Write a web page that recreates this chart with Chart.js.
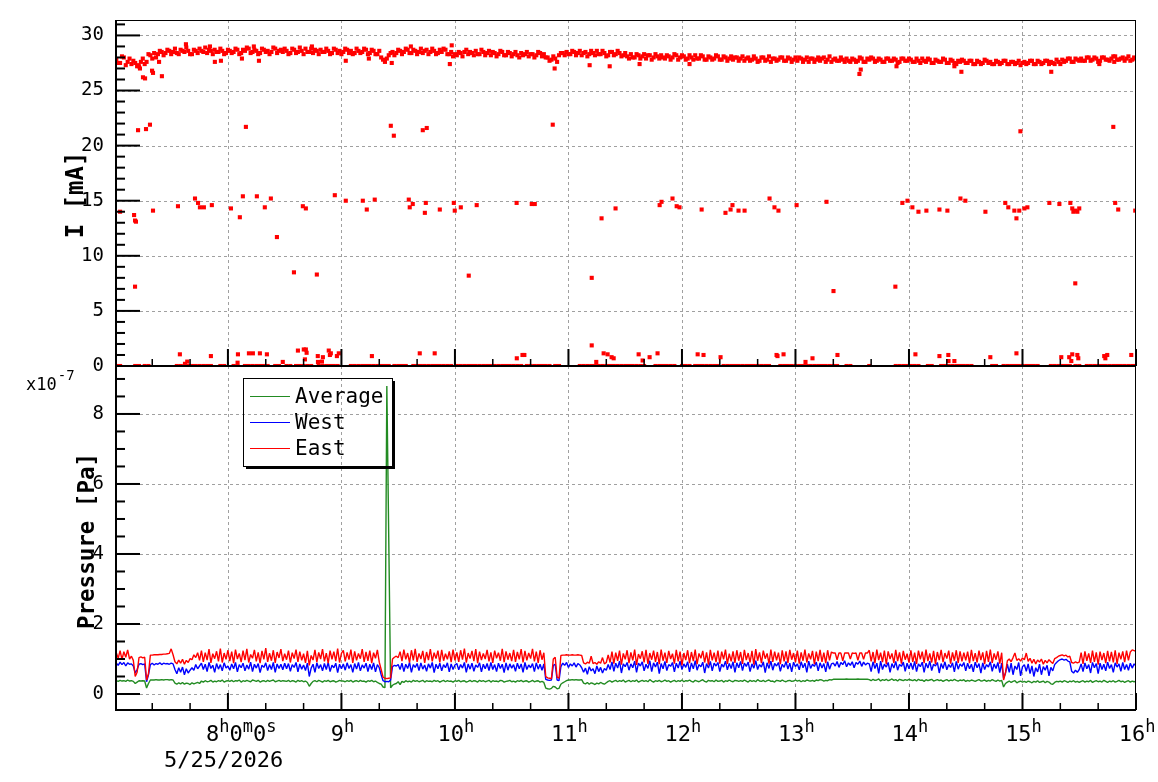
<!DOCTYPE html>
<html>
<head>
<meta charset="utf-8">
<title>Beam current and pressure</title>
<script src="https://cdn.jsdelivr.net/npm/chart.js@4.4.1/dist/chart.umd.min.js"></script>
<style>
  html, body { margin: 0; background: #fff; }
  #page { position: relative; width: 1158px; height: 782px; overflow: hidden; }
  #page canvas { position: absolute; left: 0; }
</style>
</head>
<body>
<div id="page">
  <canvas id="current" width="1158" height="386" style="top:0;width:1158px;height:386px"></canvas>
  <canvas id="pressure" width="1158" height="442" style="top:340px;width:1158px;height:442px"></canvas>
</div>
<script>
// time axis in minutes after 7:00 (5/25/2026)
const X_MIN = 0.84, X_MAX = 540;
const hourTicks = [60, 120, 180, 240, 300, 360, 420, 480, 540];
const hourLabels = ['8^h0^m0^s', '9^h', '10^h', '11^h', '12^h', '13^h', '14^h', '15^h', '16^h'];
const dateLabel = '5/25/2026';

// beam current [mA], main band: odd minutes and even minutes
const bandOdd = [
  27.8,27.5,28.0,27.6,27.4,27.5,27.2,27.9,27.6,28.2,28.4,28.3,28.5,28.4,28.6,
  28.5,28.4,28.7,28.5,28.6,28.3,28.6,28.8,28.5,28.4,28.6,28.7,28.5,28.6,28.4,
  28.6,28.5,28.7,28.4,28.6,28.8,28.5,28.6,28.4,28.7,28.6,28.5,28.8,28.6,28.5,
  28.6,28.4,28.7,28.5,28.6,28.8,28.5,28.4,28.6,28.7,28.5,28.6,28.4,28.7,28.6,
  28.5,28.7,28.6,28.4,28.6,28.5,28.7,28.4,28.6,28.3,28.0,27.6,28.2,28.5,28.4,
  28.6,28.5,28.7,28.4,28.6,28.5,28.4,28.7,28.5,28.6,28.4,28.5,28.7,28.3,28.1,
  28.2,28.4,28.5,28.3,28.4,28.6,28.3,28.5,28.4,28.2,28.4,28.3,28.5,28.2,28.4,
  28.3,28.2,28.4,28.3,28.1,28.3,28.2,28.4,28.3,28.0,27.8,27.9,28.2,28.4,28.5,
  28.3,28.5,28.4,28.2,28.5,28.3,28.4,28.6,28.3,28.4,28.2,28.5,28.3,28.4,28.2,
  28.1,28.3,28.0,28.2,28.1,27.9,28.2,28.0,28.1,28.2,27.9,28.1,28.0,28.2,28.0,
  28.1,27.9,28.0,28.2,27.9,28.1,27.8,28.0,27.9,28.1,27.8,28.0,27.9,27.8,28.0,
  27.9,27.7,28.0,27.8,27.9,27.7,28.0,27.8,27.6,27.9,27.8,28.0,27.7,27.9,27.8,
  27.7,27.9,27.8,27.6,27.9,27.8,27.7,28.0,27.8,27.6,27.9,27.7,27.8,27.9,27.6,
  27.8,27.7,27.9,27.6,27.8,27.9,27.7,27.8,27.6,27.9,27.7,27.8,27.6,27.9,27.7,
  27.8,27.6,27.7,27.9,27.6,27.8,27.5,27.7,27.6,27.8,27.5,27.7,27.4,27.6,27.7,
  27.5,27.7,27.4,27.6,27.5,27.7,27.6,27.4,27.6,27.5,27.7,27.4,27.6,27.5,27.3,
  27.6,27.5,27.7,27.4,27.6,27.5,27.7,27.6,27.4,27.6,27.8,27.7,27.9,27.6,27.8,
  27.9,27.7,28.0,27.8,27.9,27.7,28.0,27.8,27.9,28.1,27.8,28.0,27.9,27.7,28.0
];
const bandEven = [
  27.5,28.1,27.3,27.9,27.7,27.2,27.6,27.4,28.3,27.9,28.0,28.6,28.2,28.7,28.3,
  28.8,28.3,28.6,28.9,28.3,28.7,28.4,28.6,28.9,28.7,28.3,28.5,28.8,28.3,28.7,
  28.4,28.8,28.3,28.7,28.9,28.4,28.7,28.3,28.8,28.5,28.3,28.9,28.4,28.7,28.8,
  28.3,28.8,28.4,28.9,28.3,28.5,28.8,28.7,28.3,28.5,28.8,28.3,28.8,28.4,28.3,
  28.8,28.4,28.3,28.8,28.4,28.8,28.3,28.7,28.3,28.6,27.8,27.9,28.4,28.2,28.7,
  28.3,28.8,28.4,28.7,28.3,28.8,28.6,28.3,28.8,28.3,28.7,28.8,28.3,28.5,28.3,
  28.5,28.1,28.7,28.5,28.2,28.3,28.7,28.2,28.6,28.5,28.1,28.6,28.2,28.5,28.1,
  28.5,28.0,28.2,28.5,28.3,28.0,28.5,28.1,28.0,27.7,28.1,27.6,28.4,28.2,28.3,
  28.6,28.2,28.6,28.4,28.1,28.6,28.2,28.3,28.6,28.1,28.5,28.2,28.6,28.1,28.4,
  27.9,28.0,28.3,27.9,28.3,28.2,27.8,28.3,27.9,28.0,28.2,27.8,28.3,27.8,28.2,
  27.8,28.2,27.8,27.9,28.2,27.8,28.1,27.8,28.2,27.8,28.1,27.7,28.1,28.0,27.7,
  28.1,27.9,27.7,28.1,27.6,28.0,27.7,28.1,27.9,27.7,28.0,27.7,28.0,27.6,28.0,
  28.0,27.6,28.0,27.9,27.6,28.0,27.9,27.6,28.1,27.8,27.7,28.0,27.6,27.7,27.9,
  27.6,28.0,27.6,27.9,28.0,27.6,27.9,27.6,27.9,27.7,27.9,27.5,27.9,27.7,27.9,
  27.6,27.9,27.5,27.7,27.9,27.5,27.8,27.6,27.9,27.5,27.8,27.5,27.7,27.8,27.5,
  27.7,27.4,27.7,27.4,27.8,27.5,27.4,27.7,27.4,27.7,27.4,27.6,27.4,27.7,27.5,
  27.4,27.7,27.4,27.7,27.4,27.7,27.4,27.5,27.8,27.4,27.6,27.9,27.6,27.9,27.7,
  27.7,28.0,27.7,28.0,27.6,28.0,27.8,27.7,28.1,27.8,27.9,27.7,28.1,27.8,27.9
];
// minutes with a 0 mA reading
const zeroMinutes = [
  1,3,11,13,16,18,33,35,37,39,41,43,45,47,49,51,56,58,63,65,69,71,73,75,77,79,81,85,87,91,93,
  96,98,100,102,104,108,110,112,114,116,118,125,127,129,131,133,135,137,139,141,143,145,
  148,150,152,154,158,160,162,164,166,168,170,172,174,176,178,181,183,185,187,189,191,193,
  195,197,199,201,203,205,207,209,211,213,215,218,220,222,224,226,228,230,233,235,
  246,248,250,252,254,256,258,260,262,264,266,268,270,272,274,276,278,280,286,288,290,292,
  294,296,300,302,304,307,309,311,313,315,317,319,322,324,326,328,330,332,334,336,338,340,
  342,344,346,352,354,356,358,360,362,364,366,368,370,372,374,376,378,380,382,387,389,399,
  413,415,417,419,421,423,425,430,432,437,439,441,443,445,447,449,451,453,464,466,470,472,
  474,476,478,480,482,484,486,488,495,497,499,501,503,505,508,510,514,516,518,520,522,524,
  526,528,530,532,534,536,538,540
];
// isolated readings [minute, mA]
const nearBand = [
  [12.5,27.3],[13.5,27.0],[15.1,26.2],[16.2,26.1],[19.9,26.8],[20.4,26.6],[23.6,27.6],[25.1,26.3],
  [37.8,29.2],[50.5,29.0],[53.1,27.6],[56.3,27.7],[67.4,27.9],[73.7,29.0],[76.4,27.7],[104.4,29.0],
  [122.3,27.7],[134.5,27.9],[146.6,27.5],[156.7,29.0],[177.3,27.4],[178.3,29.1],[232.7,27.0],
  [251.2,27.3],[261.8,27.2],[277.6,27.4],[304,27.4],[393.8,26.5],[394.5,26.9],[413.4,27.2],
  [444,27.2],[447.7,26.7],[495.2,26.7],[520.6,27.4],[528.5,27.6]
];
const midReadings = [
  [3,14.0],[10.4,13.7],[10.9,13.2],[11.4,13.1],[10.9,7.2],[20.4,14.1],[33.6,14.5],[42.6,15.2],
  [44.2,14.8],[45.2,14.4],[47.3,14.4],[51.5,14.6],[61.6,14.3],[66.3,13.5],[67.9,15.4],[75.3,15.4],
  [79.5,14.4],[82.7,15.2],[85.9,11.7],[94.9,8.5],[107,8.3],[99.6,14.5],[101.2,14.3],[116.5,15.5],
  [122.3,15.0],[131.3,15.0],[133.4,14.2],[137.6,15.1],[155.6,15.1],[156.1,14.4],[157.7,14.7],
  [164.1,13.9],[164.6,14.8],[172,14.2],[179.4,14.8],[179.9,14.1],[183.1,14.4],[191.5,14.6],
  [187.3,8.2],[212.6,14.8],[220.6,14.7],[222.2,14.7],[252.3,8.0],[257.5,13.4],[264.9,14.3],
  [288.2,14.6],[289.2,14.9],[295,15.2],[297.2,14.5],[298.7,14.4],[310.4,14.2],[323,13.9],
  [325.7,14.2],[326.7,14.6],[329.9,14.1],[333.1,14.1],[346.3,15.2],[348.9,14.4],[351,14.1],
  [360.6,14.6],[376.4,14.9],[380.1,6.8],[412.8,7.2],[416.5,14.8],[419.2,15.0],[421.8,14.4],
  [425,14.0],[429.2,14.1],[436.1,14.2],[440.3,14.1],[447.2,15.2],[449.8,15.0],[460.4,14.0],
  [470.9,14.8],[472.5,14.4],[475.7,14.1],[476.8,13.4],[478.3,14.1],[481,14.3],[482.6,14.4],
  [494.2,14.8],[499.5,14.7],[505.3,14.8],[506.3,14.3],[506.9,14.0],[507.9,14.1],[509,14.0],
  [510,14.3],[507.9,7.5],[529,14.8],[530.6,14.2],[539.6,14.1],
  [12.5,21.4],[16.7,21.5],[18.8,21.9],[69.5,21.7],[146.1,21.8],[147.7,20.9],[163,21.4],
  [165.1,21.6],[231.7,21.9],[478.9,21.3],[528,21.7]
];
const lowReadings = [
  [34.6,1.06],[38.5,0.4],[37.3,0.2],[51,0.9],[65.3,1.06],[71.1,1.15],[73.2,1.15],[76.9,1.15],
  [80.6,1.06],[65.1,0.3],[89,0.37],[97,1.4],[100.1,1.5],[101.2,1.5],[101.6,1.2],[100.7,0.6],
  [107.5,0.9],[107.6,0.37],[109.7,0.4],[110.2,0.8],[113.3,1.4],[114.4,1.15],[113.9,1.0],
  [117.6,0.9],[118.6,1.15],[136.1,0.9],[161.4,1.15],[169.3,1.15],[212.7,0.7],[215.7,1.0],
  [216.7,1.0],[252.3,1.87],[258.6,1.15],[260.7,1.06],[262.8,0.8],[263.9,0.7],[254.7,0.37],
  [277.1,1.06],[279.2,0.5],[282.9,0.8],[287.1,1.15],[308.3,1.06],[311.4,1.0],[320.4,0.8],
  [350,1.0],[350.5,0.9],[353.7,1.06],[369,0.7],[365.3,0.37],[382.2,1.0],[423.4,1.06],
  [436.1,0.9],[440.8,1.0],[440.9,0.45],[444,0.45],[463,0.8],[476.8,1.15],[500.5,0.8],
  [504.7,0.8],[506.3,1.06],[505.8,0.45],[509,1.0],[509.5,0.7],[523.2,0.9],[524.8,1.0],
  [523.8,0.7],[537.5,1.0]
];

// pressure, one sample per minute from 7:01, in 1e-9 Pa
const average = [
  38,36,39,37,38,36,40,37,38,36,30,34,38,37,38,37,17,30,40,40,40,41,40,40,41,40,41,41,40,41,
  40,31,28,32,29,33,28,31,30,27,32,29,31,33,30,37,34,38,35,36,39,34,37,35,38,36,40,34,37,38,
  36,39,35,38,37,40,34,38,36,39,37,35,40,38,36,39,34,37,38,35,39,36,38,40,35,37,39,36,38,37,
  36,39,35,38,37,34,39,36,38,35,37,33,22,30,36,38,35,39,37,34,38,36,39,35,37,38,34,36,39,37,
  37,35,38,36,39,34,37,38,35,39,36,37,34,38,36,39,35,37,33,30,28,20,18,880,450,18,25,28,30,35,
  27,36,33,38,35,37,34,39,36,38,35,37,39,34,38,36,37,35,39,36,38,34,37,39,35,38,36,37,34,38,
  36,39,35,37,38,34,36,39,35,38,37,34,39,36,38,35,37,39,34,38,36,37,35,39,38,34,36,37,39,35,
  37,34,38,36,39,35,37,38,34,36,39,35,37,38,34,36,33,17,15,14,16,22,20,15,16,28,32,35,38,40,
  40,41,40,41,40,40,41,31,29,33,28,32,30,27,31,29,33,30,28,32,36,38,34,37,39,35,38,36,40,34,
  37,39,35,38,36,40,34,37,39,36,38,35,41,37,34,38,36,39,35,37,40,36,38,34,37,39,35,38,36,40,
  35,38,37,40,36,34,39,37,35,38,41,36,34,39,37,38,35,40,36,37,39,34,38,36,40,37,35,39,38,36,
  38,36,40,37,34,39,36,38,35,41,37,36,39,35,38,40,36,37,34,39,38,36,40,37,35,38,39,36,37,40,
  37,39,35,38,36,40,38,37,39,36,40,38,41,40,37,39,38,41,40,42,42,42,42,42,42,42,43,42,42,42,
  42,42,43,42,42,42,42,42,41,38,42,39,40,43,37,41,39,42,38,40,43,39,41,37,42,40,38,41,39,42,
  40,38,41,37,42,39,40,36,41,38,40,42,37,39,41,38,40,36,39,41,37,40,38,42,39,37,40,38,41,36,
  39,37,40,38,36,39,41,37,38,40,36,39,37,41,38,36,40,37,39,20,30,34,37,33,36,38,32,35,37,34,
  36,33,37,35,32,36,34,38,33,35,37,32,36,34,29,28,33,36,35,37,34,38,36,33,37,35,38,34,36,33,
  36,38,34,37,35,39,33,36,38,35,37,34,39,36,33,37,35,38,34,36,39,35,37,33,36,38,34,37,35,36
];
const west = [
  88,82,91,84,90,80,89,85,86,80,60,70,85,87,84,86,35,55,84,88,83,87,85,89,84,88,86,87,85,88,
  86,70,58,75,62,77,55,72,60,68,75,68,84,72,80,88,70,85,64,90,73,82,62,87,71,84,66,89,74,80,
  68,86,72,90,63,84,75,88,66,83,71,91,64,85,74,87,61,82,76,89,67,84,70,90,62,86,73,85,69,88,
  72,87,65,84,76,90,63,86,71,83,67,88,50,74,85,62,89,73,84,66,87,70,90,64,82,75,88,61,85,72,
  86,68,89,73,84,62,87,71,90,66,83,74,88,64,85,70,89,63,84,75,55,38,35,36,35,40,78,82,80,84,
  70,88,64,85,73,90,62,84,76,87,67,89,71,83,65,86,74,90,61,85,72,88,66,84,75,89,63,86,70,83,
  87,69,84,74,90,62,86,71,88,65,83,76,89,63,85,72,87,67,90,70,84,64,88,73,85,61,89,68,86,74,
  84,65,88,72,86,62,90,70,83,75,87,64,89,71,85,68,86,42,40,39,40,82,85,40,38,78,88,82,90,76,
  86,80,89,77,87,83,75,62,74,56,78,66,72,58,80,64,76,60,73,68,84,70,92,65,88,74,94,60,86,78,
  90,68,86,75,94,62,88,80,92,66,85,73,95,64,89,77,91,58,87,72,93,67,84,79,90,63,88,74,94,70,
  86,76,92,63,89,72,95,68,84,78,91,60,87,74,93,66,88,80,90,64,85,77,94,69,87,73,92,62,89,75,
  93,67,88,79,91,64,86,74,95,70,84,77,92,61,89,73,94,68,87,80,90,65,85,76,93,71,88,63,91,78,
  86,69,92,75,88,62,94,73,85,79,91,66,89,74,87,63,92,71,86,88,80,93,76,90,84,95,78,89,82,92,
  75,90,85,94,79,91,83,88,86,64,92,73,88,59,94,70,85,77,90,62,87,74,93,68,84,79,91,65,88,72,
  89,70,93,64,86,78,91,62,88,74,94,67,85,80,90,60,87,73,92,69,84,76,89,63,93,71,86,79,90,66,
  88,72,85,63,91,75,87,60,89,70,84,77,92,65,86,73,90,61,88,45,60,85,62,88,55,80,70,90,52,78,
  84,65,86,58,80,50,75,63,85,55,78,68,82,52,76,66,84,90,95,98,100,97,99,94,92,65,60,68,62,70,
  86,64,89,72,84,60,90,75,87,58,88,70,85,66,91,73,84,62,89,77,86,65,90,70,84,68,88,74,86,80
];
const east = [
  118,102,124,98,121,105,126,100,108,96,50,62,104,106,103,105,40,58,111,111,112,112,112,113,113,114,114,115,116,129,
  112,92,86,97,88,99,85,96,90,101,98,112,104,118,96,124,92,118,97,128,89,115,101,122,93,130,90,117,99,125,
  94,121,88,127,100,116,91,124,97,129,90,113,102,126,93,119,88,123,99,131,92,117,95,125,89,120,103,128,94,115,
  98,124,90,118,101,127,92,121,96,115,89,123,82,110,97,126,91,119,100,128,93,117,88,124,99,121,94,130,90,116,
  125,93,119,98,127,89,122,96,116,101,128,92,120,95,124,88,118,102,126,91,70,48,45,44,45,46,100,105,108,104,
  121,94,127,99,117,90,125,96,129,92,116,100,123,89,120,97,128,93,118,101,124,90,126,95,115,99,122,91,127,96,
  119,92,125,98,130,90,117,101,123,94,128,88,121,97,116,100,126,93,119,89,124,102,118,95,129,91,122,98,117,94,
  126,92,120,99,128,90,123,96,117,101,129,93,121,89,125,98,118,50,46,45,44,100,105,48,45,110,111,111,112,111,
  111,112,111,111,112,111,110,89,86,91,88,108,87,90,85,92,88,104,86,90,112,90,121,87,118,95,124,84,116,99,
  125,88,119,96,127,83,114,101,122,90,126,86,117,98,124,92,120,85,127,95,118,89,123,100,115,87,126,93,121,82,
  117,97,125,88,120,94,127,85,116,102,123,90,119,84,126,96,118,91,124,87,121,99,127,86,115,93,122,89,125,95,
  120,86,126,97,117,90,123,84,128,95,119,88,124,101,116,87,127,92,121,96,118,85,125,93,122,89,126,98,117,91,
  124,87,119,95,127,90,116,99,123,85,121,94,126,92,118,88,125,96,120,117,117,98,117,117,95,117,117,117,100,117,
  116,117,96,117,117,99,117,117,125,93,120,88,127,97,118,91,124,85,122,100,116,89,126,94,119,87,123,98,115,90,
  125,92,118,86,124,99,121,88,127,94,116,90,123,85,120,97,126,91,117,101,124,87,119,95,125,89,122,93,118,96,
  121,88,126,94,117,90,124,97,119,85,123,92,127,89,116,98,122,87,118,40,60,95,100,92,104,117,96,101,94,103,
  98,117,93,102,88,99,86,97,91,100,85,96,89,98,92,87,101,104,108,110,112,109,111,106,108,90,88,92,89,91,
  118,86,122,95,116,89,124,92,119,84,121,97,117,88,123,93,120,90,125,86,118,99,122,91,124,96,120,126,124,122
];

const FONT = '"DejaVu Sans Mono"';
Chart.defaults.font.family = FONT;
Chart.defaults.color = '#000';

// ROOT-like frame: dotted grid, inward ticks, black border
function rootFrame(yMajor, yMinor) {
  return {
    id: 'rootFrame',
    beforeDatasetsDraw(chart) {
      const { ctx, chartArea: a, scales: { x, y } } = chart;
      ctx.save();
      ctx.strokeStyle = '#a0a0a0';
      ctx.lineWidth = 1;
      ctx.setLineDash([3, 3]);
      ctx.beginPath();
      hourTicks.forEach(m => {
        const px = Math.round(x.getPixelForValue(m)) + 0.5;
        if (px < a.right - 3) { ctx.moveTo(px, a.top); ctx.lineTo(px, a.bottom); }
      });
      for (let v = 0; v <= y.max; v += yMajor) {
        const py = Math.round(y.getPixelForValue(v)) + 0.5;
        if (py > a.top + 3 && py < a.bottom - 3) { ctx.moveTo(a.left, py); ctx.lineTo(a.right, py); }
      }
      ctx.stroke();
      ctx.restore();
    },
    afterDatasetsDraw(chart) {
      const { ctx, chartArea: a, scales: { x, y } } = chart;
      ctx.save();
      ctx.fillStyle = '#000';
      ctx.strokeStyle = '#000';
      ctx.lineWidth = 1;
      ctx.strokeRect(a.left + 0.5, a.top + 0.5, a.right - a.left - 1, a.bottom - a.top);
      ctx.fillRect(a.left - 1, a.top, 2, a.bottom - a.top + 1);
      ctx.fillRect(a.left - 1, a.bottom - 1, a.right - a.left + 1, 2);
      // x ticks every 20 min, longer on the hour
      for (let m = 20; m <= X_MAX; m += 20) {
        const px = x.getPixelForValue(m);
        if (m % 60 === 0) ctx.fillRect(px - 1, a.bottom - 17, 2, 17);
        else ctx.fillRect(px - 0.75, a.bottom - 7, 1.5, 7);
      }
      const per = Math.round(yMajor / yMinor);
      for (let i = 0; i * yMinor <= y.max; i++) {
        const py = y.getPixelForValue(i * yMinor);
        ctx.fillRect(a.left, py - 1, i % per === 0 ? 24 : 9, 2);
      }
      ctx.restore();
    }
  };
}

function yTitle(text, size, cx, cy) {
  return {
    id: 'yTitle',
    afterDraw(chart) {
      const ctx = chart.ctx;
      ctx.save();
      ctx.translate(cx, cy);
      ctx.rotate(-Math.PI / 2);
      ctx.font = `bold ${size}px ${FONT}`;
      ctx.fillStyle = '#000';
      ctx.textAlign = 'center';
      ctx.textBaseline = 'middle';
      ctx.fillText(text, 0, 0);
      ctx.restore();
    }
  };
}

// time labels with superscript units, exponent label and legend
const pressureDecor = {
  id: 'pressureDecor',
  afterDraw(chart) {
    const { ctx, scales: { x } } = chart;
    const big = `22px ${FONT}`, small = `17px ${FONT}`;
    ctx.save();
    ctx.fillStyle = '#000';
    ctx.textAlign = 'left';
    ctx.textBaseline = 'alphabetic';
    hourTicks.forEach((m, i) => {
      const s = hourLabels[i];
      const parts = [];
      for (let k = 0; k < s.length; k++) {
        if (s[k] === '^') { parts.push([s[k + 1], true]); k++; }
        else parts.push([s[k], false]);
      }
      const widths = parts.map(([c, sup]) => { ctx.font = sup ? small : big; return ctx.measureText(c).width; });
      const total = widths.reduce((p, q) => p + q, 0);
      let cx = i === 0 ? 206 : x.getPixelForValue(m) - total / 2 + 1;
      parts.forEach(([c, sup], k) => {
        ctx.font = sup ? small : big;
        ctx.fillText(c, cx, sup ? 392 : 401);
        cx += widths[k];
      });
    });
    ctx.font = big;
    ctx.fillText(dateLabel, 164, 427);

    ctx.font = `17px ${FONT}`;
    ctx.fillText('x10', 26, 50);
    const w = ctx.measureText('x10').width;
    ctx.font = `14px ${FONT}`;
    ctx.fillText('-7', 26 + w + 1, 40);

    // legend box with shadow
    const lx = 243, ly = 38, lw = 149, lh = 88;
    ctx.fillRect(lx + 3, ly + lh, lw, 3);
    ctx.fillRect(lx + lw, ly + 3, 3, lh);
    ctx.lineWidth = 1;
    ctx.strokeStyle = '#000';
    ctx.strokeRect(lx + 0.5, ly + 0.5, lw, lh);
    ['Average', 'West', 'East'].forEach((name, i) => {
      const ds = chart.data.datasets.find(d => d.label === name);
      const yy = 56 + i * 26 + 0.5;
      ctx.strokeStyle = ds.borderColor;
      ctx.beginPath();
      ctx.moveTo(250, yy);
      ctx.lineTo(290, yy);
      ctx.stroke();
      ctx.font = `21px ${FONT}`;
      ctx.textBaseline = 'middle';
      ctx.fillText(name, 295, yy + 1);
    });
    ctx.restore();
  }
};

const bandPts = [];
bandOdd.forEach((v, i) => bandPts.push({ x: 1 + 2 * i, y: v }));
bandEven.forEach((v, i) => bandPts.push({ x: 2 + 2 * i, y: v }));
const pairPts = list => list.map(([m, v]) => ({ x: m, y: v }));
const markerStyle = { pointStyle: 'rect', pointRadius: 2.9, backgroundColor: '#ff0000', borderWidth: 0, clip: 0 };

new Chart(document.getElementById('current'), {
  type: 'scatter',
  data: {
    datasets: [
      { label: 'I', data: bandPts, ...markerStyle },
      { label: 'zero', data: zeroMinutes.map(m => ({ x: m, y: 0 })), ...markerStyle },
      { label: 'other', data: pairPts(nearBand.concat(midReadings, lowReadings)), ...markerStyle }
    ]
  },
  options: {
    responsive: false,
    animation: false,
    devicePixelRatio: 1,
    layout: { padding: { top: 20, right: 22, left: 0, bottom: 0 } },
    plugins: { legend: { display: false }, tooltip: { enabled: false } },
    scales: {
      x: {
        type: 'linear', min: X_MIN, max: X_MAX,
        grid: { display: false }, border: { display: false }, ticks: { display: false },
        afterFit: s => { s.height = 20; }
      },
      y: {
        min: 0, max: 31.4,
        grid: { display: false }, border: { display: false },
        ticks: { stepSize: 5, includeBounds: false, padding: 4, font: { size: 19 } },
        afterFit: s => { s.width = 116; }
      }
    }
  },
  plugins: [rootFrame(5, 1), yTitle('I [mA]', 24, 77, 195)]
});

const perMinute = arr => arr.map((v, i) => ({ x: 1 + i, y: v / 100 }));
const lineStyle = { borderWidth: 1.4, pointRadius: 0, fill: false, tension: 0, borderJoinStyle: 'bevel', clip: 0 };

new Chart(document.getElementById('pressure'), {
  type: 'line',
  data: {
    datasets: [
      { label: 'Average', data: perMinute(average), borderColor: '#228b22', order: 2, ...lineStyle },
      { label: 'West', data: perMinute(west), borderColor: '#0000ff', order: 1, ...lineStyle },
      { label: 'East', data: perMinute(east), borderColor: '#ff0000', order: 0, ...lineStyle }
    ]
  },
  options: {
    responsive: false,
    animation: false,
    devicePixelRatio: 1,
    layout: { padding: { top: 26, right: 22, left: 0, bottom: 0 } },
    plugins: { legend: { display: false }, tooltip: { enabled: false } },
    scales: {
      x: {
        type: 'linear', min: X_MIN, max: X_MAX,
        grid: { display: false }, border: { display: false }, ticks: { display: false },
        afterFit: s => { s.height = 72; }
      },
      y: {
        min: -0.457, max: 9.37,
        grid: { display: false }, border: { display: false },
        ticks: { stepSize: 2, includeBounds: false, padding: 4, font: { size: 19 } },
        afterFit: s => { s.width = 116; }
      }
    }
  },
  plugins: [rootFrame(2, 0.5), yTitle('Pressure [Pa]', 22.5, 88, 201), pressureDecor]
});
</script>
</body>
</html>
